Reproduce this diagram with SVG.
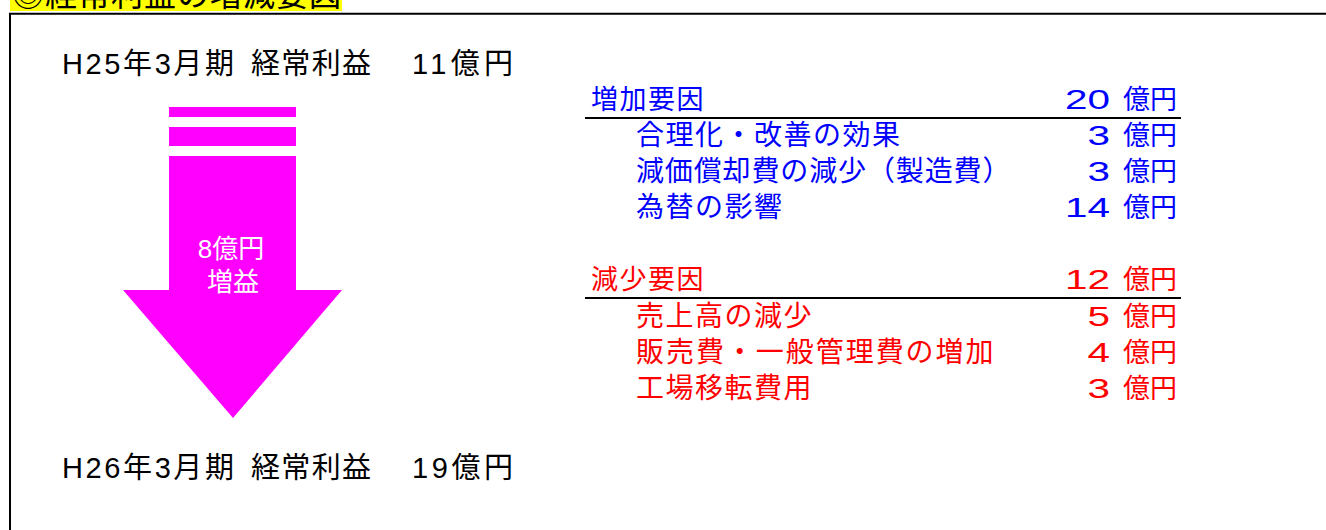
<svg xmlns="http://www.w3.org/2000/svg" width="1326" height="530" viewBox="0 0 1326 530">
<style>
text{font-family:"Liberation Sans","Noto Sans CJK JP",sans-serif;font-size:28px;}
.blk{fill:#000;font-size:29px}
.blu{fill:#0000ff}
.red{fill:#ff0000}
.hd{font-size:27px;letter-spacing:1.5px}
.it{letter-spacing:1.5px}
.unit{font-size:27px}
.wht{fill:#fff;font-size:26px;text-anchor:middle}
.rule{stroke:#000;stroke-width:2;fill:none}
</style>
<rect width="1326" height="530" fill="#fff"/>
<g id="title">
<rect x="10" y="0" width="332" height="11" fill="#ffff00"/>
<text x="12" y="6" fill="#000" style="font-size:32px;letter-spacing:1px">◎経常利益の増減要因</text>
</g>
<path id="frame" d="M10,530 V13.7 H1326" class="rule"/>
<g id="start">
<text x="62" y="74" class="blk" textLength="172" lengthAdjust="spacing">H25年3月期</text>
<text x="251" y="74" class="blk" textLength="120" lengthAdjust="spacing">経常利益</text>
<text x="412" y="74" class="blk" textLength="101" lengthAdjust="spacing">11億円</text>
</g>
<g id="arrow">
<rect x="169" y="107" width="127" height="10" fill="#ff00ff"/>
<rect x="169" y="127" width="127" height="19" fill="#ff00ff"/>
<polygon points="169,156 296,156 296,290 342,290 233,418 123,290 169,290" fill="#ff00ff"/>
<text x="231" y="258" class="wht">8億円</text>
<text x="233" y="291" class="wht">増益</text>
</g>
<g id="end">
<text x="62" y="478" class="blk" textLength="172" lengthAdjust="spacing">H26年3月期</text>
<text x="251" y="478" class="blk" textLength="120" lengthAdjust="spacing">経常利益</text>
<text x="412" y="478" class="blk" textLength="101" lengthAdjust="spacing">19億円</text>
</g>
<g id="increase">
<text x="591" y="109" class="blu hd">増加要因</text>
<text x="1065" y="109" class="blu" textLength="45" lengthAdjust="spacingAndGlyphs">20</text>
<text x="1123" y="109" class="blu unit">億円</text>
<line x1="585" y1="118" x2="1181" y2="118" class="rule"/>
<text x="636" y="145" class="blu it">合理化・改善の効果</text>
<text x="1087.5" y="145" class="blu" textLength="22.5" lengthAdjust="spacingAndGlyphs">3</text>
<text x="1123" y="145" class="blu unit">億円</text>
<text x="636" y="181" class="blu it" textLength="376" lengthAdjust="spacing">減価償却費の減少（製造費）</text>
<text x="1087.5" y="181" class="blu" textLength="22.5" lengthAdjust="spacingAndGlyphs">3</text>
<text x="1123" y="181" class="blu unit">億円</text>
<text x="636" y="217" class="blu it">為替の影響</text>
<text x="1065" y="217" class="blu" textLength="45" lengthAdjust="spacingAndGlyphs">14</text>
<text x="1123" y="217" class="blu unit">億円</text>
</g>
<g id="decrease">
<text x="591" y="289" class="red hd">減少要因</text>
<text x="1065" y="289" class="red" textLength="45" lengthAdjust="spacingAndGlyphs">12</text>
<text x="1123" y="289" class="red unit">億円</text>
<line x1="585" y1="298" x2="1181" y2="298" class="rule"/>
<text x="636" y="326" class="red it">売上高の減少</text>
<text x="1087.5" y="326" class="red" textLength="22.5" lengthAdjust="spacingAndGlyphs">5</text>
<text x="1123" y="326" class="red unit">億円</text>
<text x="636" y="362" class="red it" textLength="359" lengthAdjust="spacing">販売費・一般管理費の増加</text>
<text x="1087.5" y="362" class="red" textLength="22.5" lengthAdjust="spacingAndGlyphs">4</text>
<text x="1123" y="362" class="red unit">億円</text>
<text x="636" y="398" class="red it">工場移転費用</text>
<text x="1087.5" y="398" class="red" textLength="22.5" lengthAdjust="spacingAndGlyphs">3</text>
<text x="1123" y="398" class="red unit">億円</text>
</g>
</svg>
